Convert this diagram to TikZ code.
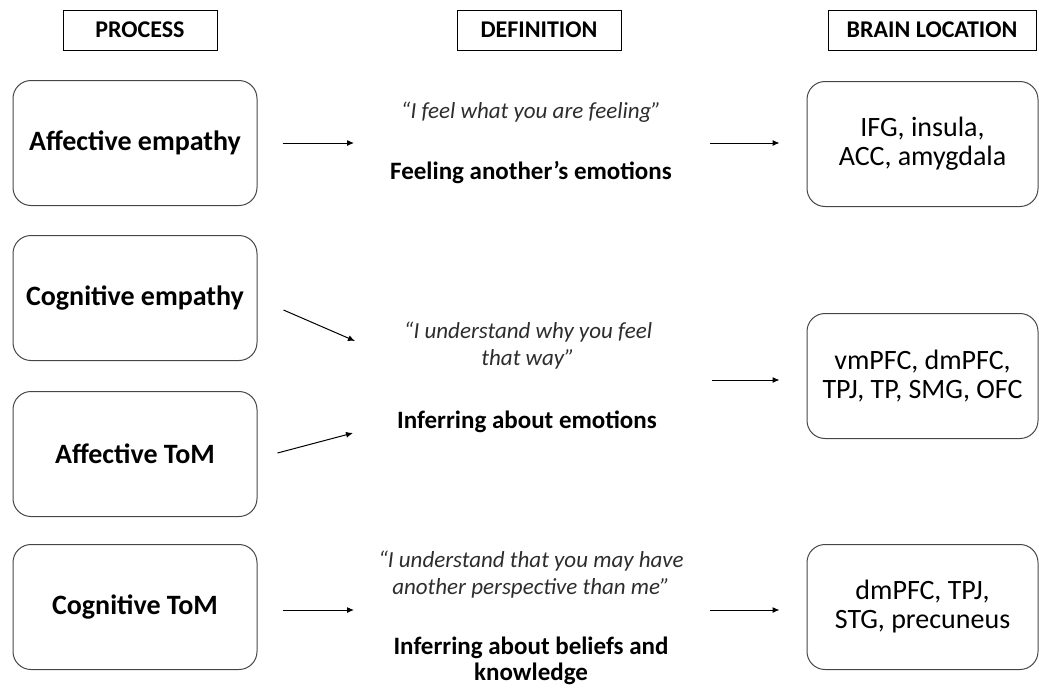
\documentclass[tikz,border=0pt]{standalone}
\usepackage{fontspec}
\setmainfont{Carlito}
\usetikzlibrary{arrows.meta,positioning}
\definecolor{boxgray}{RGB}{70,70,70}
\definecolor{quotegray}{RGB}{45,45,45}

\begin{document}
\begin{tikzpicture}[x=1pt,y=-1pt,head/.style={draw=black,line width=0.9pt,minimum height=40pt,inner xsep=0pt,font=\fontsize{24}{28}\selectfont\bfseries},procbox/.style={draw=boxgray,rounded corners=18pt,line width=1pt,minimum width=244pt,minimum height=125pt,align=center,font=\fontsize{28}{32}\selectfont\bfseries},locbox/.style={procbox,minimum width=231pt,font=\fontsize{28}{29}\selectfont},quote/.style={align=center,font=\fontsize{23}{27}\selectfont\itshape,text=quotegray},meaning/.style={align=center,font=\fontsize{25}{26}\selectfont\bfseries},arr/.style={-{Latex[length=7pt,width=6pt]},line width=1pt}]
\useasboundingbox (0,0) rectangle (1039,691);
% column headers
\node[head,minimum width=154pt](hproc) at (140,30){PROCESS};
\node[head,minimum width=164pt](hdef) at (539,30){DEFINITION};
\node[head,minimum width=208pt](hloc) at (932,30){BRAIN LOCATION};
% processes
\node[procbox](affemp) at (135,143){Affective empathy};
\node[procbox](cogemp) at (135,298){Cognitive empathy};
\node[procbox](afftom) at (135,454){Affective ToM};
\node[procbox](cogtom) at (135,607){Cognitive ToM};
% definitions
\node[quote](q1) at (531,112){``I feel what you are feeling''};
\node[meaning](m1) at (531,173){Feeling another’s emotions};
\node[quote](q2) at (528,346){``I understand why you feel\\that way''};
\node[meaning](m2) at (527,422){Inferring about emotions};
\node[quote](q3) at (531,575){``I understand that you may have\\another perspective than me''};
\node[meaning](m3) at (531,661){Inferring about beliefs and\\knowledge};
% brain locations
\node[locbox](loc1) at (922.5,144){IFG, insula,\\ACC, amygdala};
\node[locbox](loc2) at (922.5,376){vmPFC, dmPFC,\\TPJ, TP, SMG, OFC};
\node[locbox](loc3) at (922.5,607){dmPFC, TPJ,\\STG, precuneus};
% arrow ends in the definition column
\coordinate(in1) at (354,143);\coordinate(in2a) at (355,341);\coordinate(in2b) at (353,433);\coordinate(in3) at (354,610);
\coordinate(out1) at (710,143);\coordinate(out2) at (712,380);\coordinate(out3) at (710,610);
\draw[arr]([xshift=25pt]affemp.east)--(in1);
\draw[arr]([shift={(26,12)}]cogemp.east)--(in2a);
\draw[arr]([shift={(20,-1)}]afftom.east)--(in2b);
\draw[arr]([shift={(25,3)}]cogtom.east)--(in3);
\draw[arr,shorten >=27pt](out1)--(out1-|loc1.west);
\draw[arr,shorten >=27pt](out2)--(out2-|loc2.west);
\draw[arr,shorten >=27pt](out3)--(out3-|loc3.west);
\end{tikzpicture}
\end{document}
